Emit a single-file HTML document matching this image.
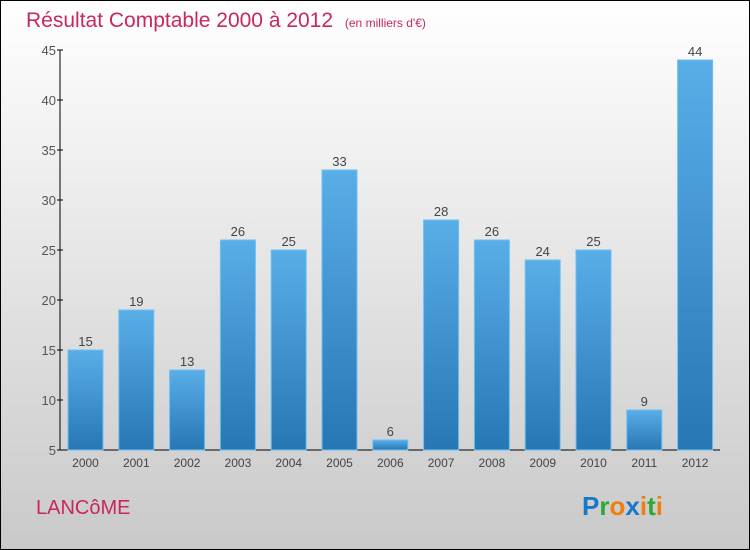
<!DOCTYPE html>
<html><head><meta charset="utf-8"><style>
html,body{margin:0;padding:0}
body{width:750px;height:550px;overflow:hidden}
svg{display:block}
</style></head><body>
<svg width="750" height="550" viewBox="0 0 750 550" font-family="Liberation Sans, sans-serif">
<defs>
<linearGradient id="bg" x1="0" y1="0" x2="0" y2="1"><stop offset="0" stop-color="#ffffff"/><stop offset="1" stop-color="#c9c9c9"/></linearGradient>
<linearGradient id="bar" x1="0" y1="0" x2="0" y2="1"><stop offset="0" stop-color="#5aaee8"/><stop offset="1" stop-color="#2677b4"/></linearGradient>
</defs>
<rect x="0.5" y="0.5" width="749" height="549" fill="url(#bg)" stroke="#000"/>
<text x="26" y="27" font-size="21" fill="#c8285a">Résultat Comptable 2000 à 2012 <tspan font-size="12" dx="6">(en milliers d'€)</tspan></text>
<g id="axes"></g>
<g id="bars"></g>
<text x="36" y="514" font-size="20" fill="#c8285a">LANCôME</text>
<text x="582" y="515" font-size="26" font-weight="bold"><tspan fill="#1a78c8">P</tspan><tspan fill="#2ea836">r</tspan><tspan fill="#f07d10">o</tspan><tspan fill="#1a78c8">x</tspan><tspan fill="#f07d10">i</tspan><tspan fill="#2ea836">t</tspan><tspan fill="#f07d10">i</tspan></text>
</svg>
<script>
const categories=["2000","2001","2002","2003","2004","2005","2006","2007","2008","2009","2010","2011","2012"];
const values=[15,19,13,26,25,33,6,28,26,24,25,9,44];
const yTicks=[5,10,15,20,25,30,35,40,45];
const NS="http://www.w3.org/2000/svg";
const y=v=>450-(v-5)*10;
const x=i=>85.5+i*50.8;
function mk(t,a,p){const e=document.createElementNS(NS,t);for(const k in a)e.setAttribute(k,a[k]);p.appendChild(e);return e;}
const ax=document.getElementById('axes'),bg=document.getElementById('bars');
let l=mk('line',{x1:60,y1:50,x2:60,y2:450,stroke:'#000'},ax);


l=mk('line',{x1:60,y1:450,x2:720,y2:450,stroke:'#000'},ax);


yTicks.forEach(v=>{
 const t=mk('line',{x1:57,y1:y(v),x2:63,y2:y(v),stroke:'#000'},ax);
 
 
 const s=mk('text',{x:56,y:y(v)+5,'text-anchor':'end','font-size':13,fill:'#555'},ax);
 s.textContent=v;
 
 
});
categories.forEach((c,i)=>{
 const r=mk('rect',{x:x(i)-17.5,y:y(values[i]),width:35,height:450-y(values[i]),fill:'url(#bar)',stroke:'#6cc0f5','stroke-width':1},bg);
 
 
 const v=mk('text',{x:x(i),y:y(values[i])-4,'text-anchor':'middle','font-size':13,fill:'#444'},bg);
 v.textContent=values[i];
 
 
 const t=mk('text',{x:x(i),y:467,'text-anchor':'middle','font-size':12,fill:'#444'},bg);
 t.textContent=c;
 
 
});
</script>
</body></html>
